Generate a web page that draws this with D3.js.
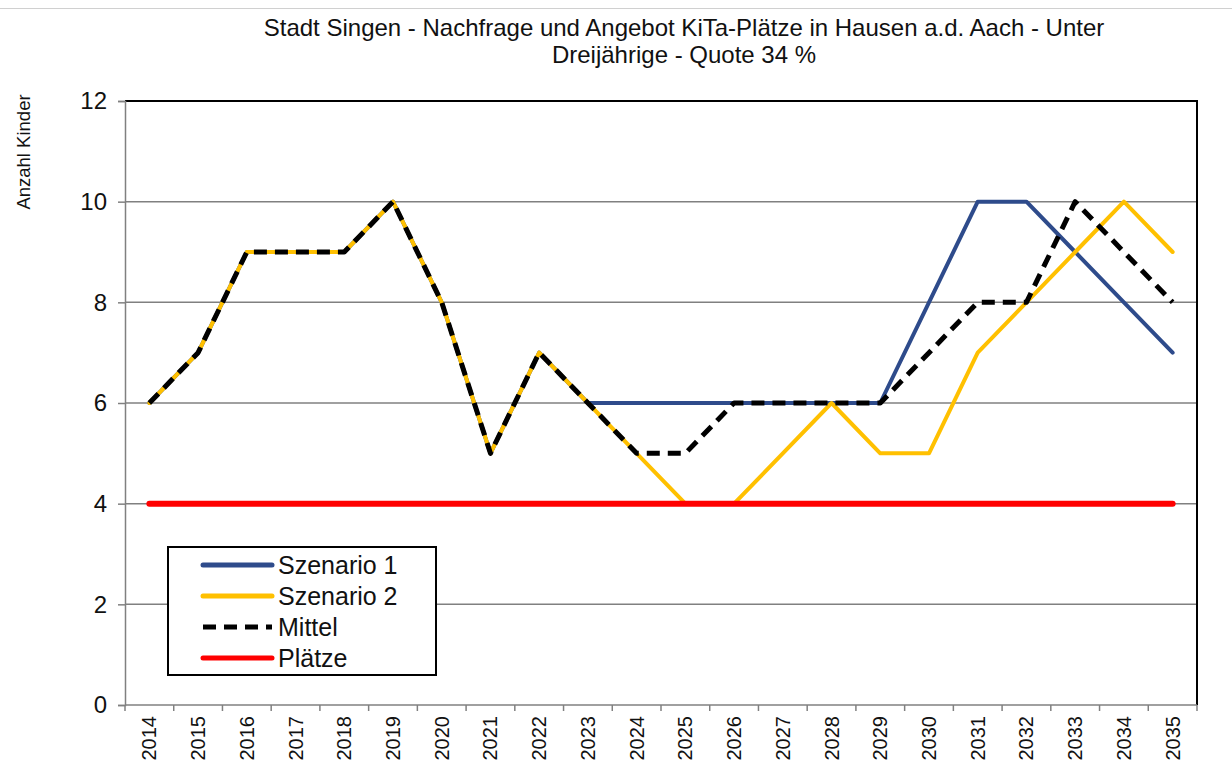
<!DOCTYPE html>
<html>
<head>
<meta charset="utf-8">
<script src="https://cdn.jsdelivr.net/npm/d3@7"></script>
<style>
  body { margin: 0; background: #fff; }
  svg { font-family: "Liberation Sans", Arial, sans-serif; }
</style>
</head>
<body>
<svg id="chart"></svg>
<script>
// Data
const years = ['2014','2015','2016','2017','2018','2019','2020','2021','2022','2023','2024',
               '2025','2026','2027','2028','2029','2030','2031','2032','2033','2034','2035'];
const szenario1 = [6, 7, 9, 9, 9, 10, 8, 5, 7, 6, 6, 6, 6, 6, 6, 6, 8, 10, 10, 9, 8, 7];
const szenario2 = [6, 7, 9, 9, 9, 10, 8, 5, 7, 6, 5, 4, 4, 5, 6, 5, 5, 7, 8, 9, 10, 9];
const mittel    = [6, 7, 9, 9, 9, 10, 8, 5, 7, 6, 5, 5, 6, 6, 6, 6, 7, 8, 8, 10, 9, 8];
const plaetze   = [4, 4, 4, 4, 4, 4, 4, 4, 4, 4, 4, 4, 4, 4, 4, 4, 4, 4, 4, 4, 4, 4];
const yTicks = [0, 2, 4, 6, 8, 10, 12];

const series = [
    { name: 'Szenario 1', values: szenario1, color: '#2e4b8b', width: 4, dash: null },
    { name: 'Szenario 2', values: szenario2, color: '#ffc000', width: 4, dash: null },
    { name: 'Mittel', values: mittel, color: '#000000', width: 5, dash: '13,8' },
    { name: 'Plätze', values: plaetze, color: '#ff0000', width: 6, dash: null }
];

const W = 1232, H = 767;
const margin = { top: 101, right: 35, bottom: 62, left: 125 };
const width = W - margin.left - margin.right;
const height = H - margin.top - margin.bottom;

const root = d3.select('#chart').attr('width', W).attr('height', H);

// faint outer chart border line at the top
root.append('line')
    .attr('x1', 0).attr('x2', W).attr('y1', 8.5).attr('y2', 8.5)
    .attr('stroke', '#d0d0d0').attr('stroke-width', 1);

// Title
const title = root.append('text')
    .attr('x', 684).attr('y', 36)
    .attr('text-anchor', 'middle')
    .style('font-size', '24px')
    .attr('fill', '#111');
title.append('tspan').attr('x', 684).text('Stadt Singen - Nachfrage und Angebot KiTa-Plätze in Hausen a.d. Aach - Unter');
title.append('tspan').attr('x', 684).attr('dy', 27).text('Dreijährige - Quote 34 %');

const svg = root.append('g').attr('transform', `translate(${margin.left},${margin.top})`);

const x = d3.scaleBand().domain(years).range([0, width]);
const y = d3.scaleLinear().domain([0, 12]).range([height, 0]);
const cx = d => x(d) + x.bandwidth() / 2;

// Gridlines
svg.append('g')
    .selectAll('line')
    .data(yTicks.filter(t => t > 0 && t < 12))
    .enter().append('line')
    .attr('x1', 0).attr('x2', width)
    .attr('y1', d => y(d)).attr('y2', d => y(d))
    .attr('stroke', '#808080').attr('stroke-width', 1.5);

// Plot border top and right
svg.append('path')
    .attr('d', `M0,${y(12)}H${width}V${height}`)
    .attr('fill', 'none').attr('stroke', '#000').attr('stroke-width', 2);

// Y axis
const yAxis = svg.append('g')
    .call(d3.axisLeft(y).tickValues(yTicks).tickSize(7).tickPadding(11).tickFormat(d3.format('d')));
yAxis.select('.domain').attr('stroke', '#808080').attr('stroke-width', 1.5);
yAxis.selectAll('.tick line').attr('stroke', '#808080').attr('stroke-width', 1.5);
yAxis.selectAll('.tick text').style('font-size', '24px').style('font-family', '"Liberation Sans", Arial, sans-serif').attr('fill', '#111');

// X axis: ticks between categories
const xAxisG = svg.append('g').attr('transform', `translate(0,${height})`);
xAxisG.append('line')
    .attr('x1', 0).attr('x2', width).attr('y1', 0).attr('y2', 0)
    .attr('stroke', '#808080').attr('stroke-width', 1.5);
xAxisG.selectAll('.xtick')
    .data(years.concat(['end']))
    .enter().append('line')
    .attr('x1', (d, i) => i * x.bandwidth()).attr('x2', (d, i) => i * x.bandwidth())
    .attr('y1', 0).attr('y2', 6)
    .attr('stroke', '#808080').attr('stroke-width', 1.5);
xAxisG.selectAll('.xlabel')
    .data(years)
    .enter().append('text')
    .attr('transform', d => `translate(${cx(d) + 7},11) rotate(-90)`)
    .attr('text-anchor', 'end')
    .style('font-size', '20px')
    .attr('fill', '#111')
    .text(d => d);

// Y axis title
root.append('text')
    .attr('transform', 'translate(30,152) rotate(-90)')
    .attr('text-anchor', 'middle')
    .style('font-size', '18.5px')
    .attr('fill', '#111')
    .text('Anzahl Kinder');

// Lines
const line = d3.line()
    .x((d, i) => cx(years[i]))
    .y(d => y(d));

series.forEach(s => {
    svg.append('path')
        .datum(s.values)
        .attr('d', line)
        .attr('fill', 'none')
        .attr('stroke', s.color)
        .attr('stroke-width', s.width)
        .attr('stroke-dasharray', s.dash)
        .attr('stroke-linejoin', 'round')
        .attr('stroke-linecap', s.dash ? 'butt' : 'round');
});

// Legend
const legend = root.append('g').attr('transform', 'translate(168,547)');
legend.append('rect')
    .attr('width', 268).attr('height', 128)
    .attr('fill', '#fff').attr('stroke', '#000').attr('stroke-width', 2);
series.forEach((s, i) => {
    const ly = 18 + i * 31;
    legend.append('line')
        .attr('x1', 35).attr('x2', 104).attr('y1', ly).attr('y2', ly)
        .attr('stroke', s.color)
        .attr('stroke-width', 5)
        .attr('stroke-dasharray', s.dash)
        .attr('stroke-linecap', s.dash ? 'butt' : 'round');
    legend.append('text')
        .attr('x', 110).attr('y', ly + 9)
        .style('font-size', '25px')
        .attr('fill', '#111')
        .text(s.name);
});
</script>
</body>
</html>
